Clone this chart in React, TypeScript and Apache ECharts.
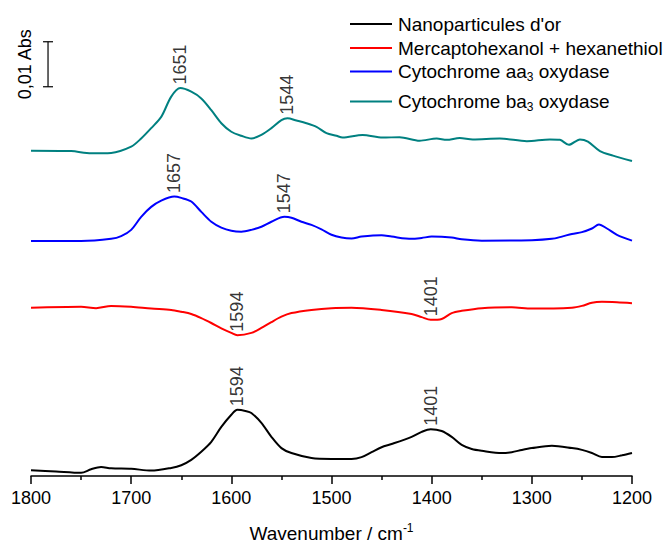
import React, { useEffect, useRef } from "react";
import * as echarts from "echarts";

// Wavenumber (cm-1) / offset absorbance (mAbs, spectra stacked as drawn)
const nanoX = [1800, 1775, 1750, 1740, 1730, 1720, 1700, 1680, 1660, 1650, 1640, 1630, 1620, 1610, 1600, 1594, 1585, 1580, 1570, 1560, 1550, 1540, 1520, 1500, 1480, 1470, 1460, 1450, 1440, 1420, 1410, 1401, 1390, 1380, 1370, 1360, 1350, 1330, 1320, 1310, 1300, 1280, 1260, 1250, 1240, 1230, 1220, 1210, 1200];
const nanoY = [1.3, 1.0, 0.7, 1.5, 2.0, 1.7, 1.6, 1.2, 1.8, 2.4, 3.6, 5.4, 7.6, 10.9, 13.6, 14.7, 14.4, 14.0, 11.8, 8.7, 6.2, 5.1, 4.0, 3.8, 3.8, 4.2, 5.3, 6.4, 7.1, 8.7, 9.8, 10.4, 10.0, 8.7, 6.9, 6.0, 5.6, 5.1, 5.3, 5.8, 6.2, 6.7, 6.2, 5.8, 5.1, 4.2, 4.2, 4.6, 5.1];

const mchX = [1800, 1750, 1735, 1720, 1700, 1680, 1660, 1650, 1640, 1630, 1620, 1610, 1600, 1594, 1580, 1570, 1560, 1550, 1540, 1520, 1500, 1480, 1450, 1420, 1410, 1401, 1390, 1380, 1370, 1350, 1320, 1300, 1260, 1250, 1240, 1230, 1215, 1200];
const mchY = [37.4, 37.6, 37.3, 37.8, 37.6, 37.2, 36.9, 36.5, 36.0, 35.1, 34.0, 32.8, 31.8, 31.3, 31.8, 32.9, 34.2, 35.4, 36.2, 36.9, 37.3, 37.4, 36.9, 36.0, 35.3, 34.7, 34.9, 36.2, 36.7, 37.3, 37.5, 37.2, 37.4, 37.8, 38.5, 38.7, 38.6, 38.4];

const aa3X = [1800, 1750, 1720, 1710, 1700, 1690, 1680, 1670, 1657, 1650, 1640, 1630, 1620, 1610, 1600, 1590, 1580, 1570, 1560, 1547, 1540, 1530, 1520, 1510, 1500, 1490, 1480, 1470, 1450, 1440, 1420, 1410, 1400, 1380, 1370, 1350, 1300, 1280, 1270, 1260, 1250, 1240, 1233, 1225, 1215, 1200];
const aa3Y = [52.2, 52.2, 52.7, 53.3, 54.7, 57.6, 59.8, 61.2, 62.1, 61.8, 61.0, 58.7, 56.5, 55.2, 54.5, 54.3, 54.7, 55.4, 56.5, 57.6, 57.4, 56.5, 55.8, 54.8, 53.6, 53.0, 52.8, 53.2, 53.5, 53.2, 52.7, 52.9, 53.2, 53.0, 52.6, 52.3, 52.4, 52.7, 53.2, 53.8, 54.2, 55.0, 55.9, 55.0, 53.6, 52.3];

const ba3X = [1800, 1760, 1740, 1720, 1700, 1690, 1680, 1670, 1660, 1651, 1640, 1630, 1620, 1610, 1600, 1590, 1580, 1570, 1560, 1550, 1544, 1535, 1525, 1515, 1505, 1495, 1489, 1469, 1449, 1432, 1412, 1395, 1385, 1372, 1359, 1332, 1305, 1282, 1272, 1263, 1252, 1244, 1232, 1219, 1200];
const ba3Y = [72.3, 72.2, 71.7, 71.8, 73.2, 75.0, 77.3, 79.8, 84.3, 86.2, 85.4, 83.9, 81.3, 78.4, 76.5, 75.6, 75.0, 75.8, 77.3, 79.1, 79.5, 79.0, 78.4, 77.6, 76.2, 75.6, 75.2, 75.8, 75.2, 75.3, 74.5, 75.0, 74.7, 75.1, 74.8, 75.0, 74.4, 74.8, 74.7, 73.6, 74.8, 74.3, 72.2, 71.2, 70.0];

const seriesNames = ["Nanoparticules d'or", "Mercaptohexanol + hexanethiol", "Cytochrome aa{s|3} oxydase", "Cytochrome ba{s|3} oxydase"];
const plainNames = ["Nanoparticules d'or", "Mercaptohexanol + hexanethiol", "Cytochrome aa3 oxydase", "Cytochrome ba3 oxydase"];
const seriesColors = ["#000000", "#ff0000", "#0000ff", "#008080"];
const seriesX = [nanoX, mchX, aa3X, ba3X];
const seriesY = [nanoY, mchY, aa3Y, ba3Y];
const peaks = [[1594, 1401], [1594, 1401], [1657, 1547], [1651, 1544]];

const xTicks = { min: 1200, max: 1800, interval: 100 };
const scaleBar = { x: 1783, y0: 86.5, size: 10, label: "0,01 Abs" };
const axisTitle = "{a|Wavenumber / cm}{sup|-1}";

const FONT = "'Liberation Sans', Arial, Helvetica, sans-serif";

export default function App() {
  const ref = useRef<HTMLDivElement>(null);
  useEffect(() => {
    if (!ref.current) return;
    const chart = echarts.init(ref.current, null, { renderer: "svg" });

    const lineSeries = seriesX.map((xs, i) => ({
      type: "line",
      name: plainNames[i],
      data: xs.map((x, j) => [x, seriesY[i][j]]),
      showSymbol: false,
      symbol: "none",
      smooth: 0.3,
      lineStyle: { color: seriesColors[i], width: 2 },
      itemStyle: { color: seriesColors[i] },
      silent: true,
      z: 2,
    }));

    const peakData: any[] = [];
    peaks.forEach((ps, i) => {
      ps.forEach((p) => {
        const j = seriesX[i].indexOf(p);
        peakData.push([p, seriesY[i][j], String(p)]);
      });
    });

    const legendGraphics: any[] = [];
    const rowY = [24, 48, 71.5, 101.5];
    seriesNames.forEach((n, i) => {
      legendGraphics.push({
        type: "line",
        shape: { x1: 350, y1: rowY[i], x2: 392, y2: rowY[i] },
        style: { stroke: seriesColors[i], lineWidth: 2 },
      });
      legendGraphics.push({
        type: "text",
        x: 398,
        y: rowY[i],
        style: {
          text: n.includes("{s|") ? "{a|" + n.replace("{s|3}", "}{s|3}{a|") + "}" : n,
          fontSize: 19,
          fontFamily: FONT,
          fill: "#000",
          align: "left",
          verticalAlign: "middle",
          rich: {
            a: { fontSize: 19, fontFamily: FONT, lineHeight: 22, fill: "#000" },
            s: { fontSize: 12, fontFamily: FONT, lineHeight: 4, verticalAlign: "bottom", fill: "#000" },
          },
        },
      });
    });

    chart.setOption({
      animation: false,
      grid: { left: 31, right: 36, top: 26, bottom: 66, outerBoundsMode: "none", containLabel: false },
      xAxis: {
        type: "value",
        inverse: true,
        min: xTicks.min,
        max: xTicks.max,
        interval: xTicks.interval,
        splitLine: { show: false },
        axisLine: { show: true, onZero: false, lineStyle: { color: "#000", width: 1.5 } },
        axisTick: { show: true, length: 8, lineStyle: { color: "#000", width: 1.5 } },
        minorTick: { show: true, splitNumber: 2, length: 4, lineStyle: { color: "#000", width: 1.5 } },
        axisLabel: { color: "#000", fontSize: 18, fontFamily: FONT, margin: 13, formatter: (v: number) => String(v) },
        name: axisTitle,
        nameLocation: "middle",
        nameGap: 46,
        nameTextStyle: {
          color: "#000",
          fontSize: 19,
          fontFamily: FONT,
          rich: {
            a: { fontSize: 19, fontFamily: FONT, lineHeight: 22, color: "#000" },
            sup: { fontSize: 12, fontFamily: FONT, lineHeight: 4, verticalAlign: "top", color: "#000" },
          },
        },
      },
      yAxis: { type: "value", show: false, min: 0, max: 100 },
      series: [
        ...lineSeries,
        {
          type: "scatter",
          data: peakData,
          symbolSize: 1,
          itemStyle: { color: "transparent" },
          silent: true,
          z: 3,
          label: {
            show: true,
            position: "top",
            distance: 3,
            rotate: 90,
            align: "left",
            verticalAlign: "middle",
            color: "#000",
            fontSize: 18,
            fontFamily: FONT,
            formatter: (p: any) => p.value[2],
          },
        },
        {
          type: "custom",
          data: [[scaleBar.x, scaleBar.y0, scaleBar.y0 + scaleBar.size]],
          clip: false,
          silent: true,
          renderItem: (params: any, api: any) => {
            const a = api.coord([api.value(0), api.value(1)]);
            const b = api.coord([api.value(0), api.value(2)]);
            const st = { stroke: "#000", lineWidth: 1.2 };
            return {
              type: "group",
              children: [
                { type: "line", shape: { x1: a[0], y1: a[1], x2: b[0], y2: b[1] }, style: st },
                { type: "line", shape: { x1: a[0] - 5, y1: a[1], x2: a[0] + 5, y2: a[1] }, style: st },
                { type: "line", shape: { x1: b[0] - 5, y1: b[1], x2: b[0] + 5, y2: b[1] }, style: st },
                {
                  type: "text",
                  x: a[0] - 23,
                  y: (a[1] + b[1]) / 2,
                  rotation: Math.PI / 2,
                  style: {
                    text: scaleBar.label,
                    fontSize: 18,
                    fontFamily: FONT,
                    fill: "#000",
                    align: "center",
                    verticalAlign: "middle",
                  },
                },
              ],
            };
          },
        },
      ],
      graphic: legendGraphics,
    });
    return () => chart.dispose();
  }, []);
  return <div ref={ref} style={{ width: 668, height: 542, position: "absolute", left: 0, top: 0 }} />;
}
